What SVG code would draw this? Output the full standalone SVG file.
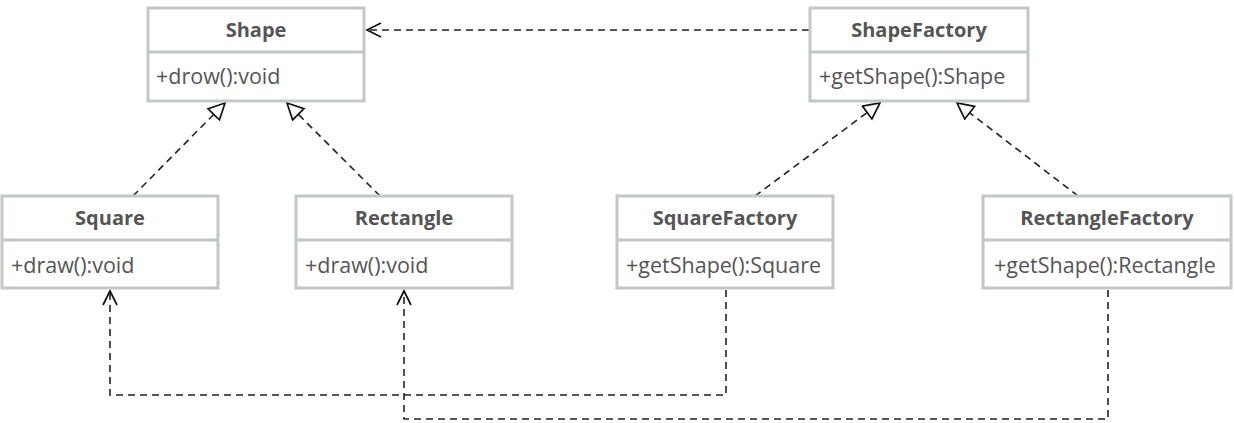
<svg xmlns="http://www.w3.org/2000/svg" width="1234" height="423" viewBox="0 0 1234 423">
<style>
.box{fill:#fff;stroke:#c3c7c7;stroke-width:3}
.t{font-family:"Open Sans",Lato,sans-serif;font-size:20px;font-weight:bold;fill:#555;text-anchor:middle}
.m{font-family:"Open Sans",Lato,sans-serif;font-size:21.5px;fill:#555}
.c{fill:none;stroke:#222;stroke-width:1.6;stroke-dasharray:7,5}
</style>
<defs>
<marker id="tri" markerWidth="20" markerHeight="20" refX="17" refY="9" orient="auto" markerUnits="userSpaceOnUse">
<path d="M1,1 L17,9 L1,17 Z" fill="#fff" stroke="#111" stroke-width="1.7"/>
</marker>
<marker id="open" markerWidth="20" markerHeight="20" refX="15" refY="8" orient="auto" markerUnits="userSpaceOnUse">
<path d="M1,1 L15,8 L1,15" fill="none" stroke="#111" stroke-width="1.7"/>
</marker>
</defs>
<g id="connectors">
<path class="c" d="M133,196 L225,103" marker-end="url(#tri)"/>
<path class="c" d="M380,196 L287,103" marker-end="url(#tri)"/>
<path class="c" d="M755,196 L880,103" marker-end="url(#tri)"/>
<path class="c" d="M1078,196 L957,103" marker-end="url(#tri)"/>
<path class="c" d="M809,30 L367,30" marker-end="url(#open)"/>
<path class="c" d="M726,290 L726,395 L110,395 L110,291" marker-end="url(#open)"/>
<path class="c" d="M1108,290 L1108,419 L404,419 L404,291" marker-end="url(#open)"/>
</g>
<g id="Shape">
<rect class="box" x="148" y="8" width="216" height="93"/>
<line class="box" x1="148" y1="52" x2="364" y2="52"/>
<text class="t" x="256" y="37">Shape</text>
<text class="m" x="156" y="84">+drow():void</text>
</g>
<g id="ShapeFactory">
<rect class="box" x="810" y="8" width="218" height="93"/>
<line class="box" x1="810" y1="52" x2="1028" y2="52"/>
<text class="t" x="919" y="37">ShapeFactory</text>
<text class="m" x="819" y="84">+getShape():Shape</text>
</g>
<g id="Square">
<rect class="box" x="2" y="196" width="216" height="92"/>
<line class="box" x1="2" y1="240" x2="218" y2="240"/>
<text class="t" x="110" y="225">Square</text>
<text class="m" x="11" y="273">+draw():void</text>
</g>
<g id="Rectangle">
<rect class="box" x="296" y="196" width="216" height="92"/>
<line class="box" x1="296" y1="240" x2="512" y2="240"/>
<text class="t" x="404" y="225">Rectangle</text>
<text class="m" x="305" y="273">+draw():void</text>
</g>
<g id="SquareFactory">
<rect class="box" x="617" y="196" width="216" height="92"/>
<line class="box" x1="617" y1="240" x2="833" y2="240"/>
<text class="t" x="725" y="225">SquareFactory</text>
<text class="m" x="626" y="273">+getShape():Square</text>
</g>
<g id="RectangleFactory">
<rect class="box" x="983" y="196" width="248" height="92"/>
<line class="box" x1="983" y1="240" x2="1231" y2="240"/>
<text class="t" x="1107" y="225">RectangleFactory</text>
<text class="m" x="994" y="273">+getShape():Rectangle</text>
</g>
</svg>
